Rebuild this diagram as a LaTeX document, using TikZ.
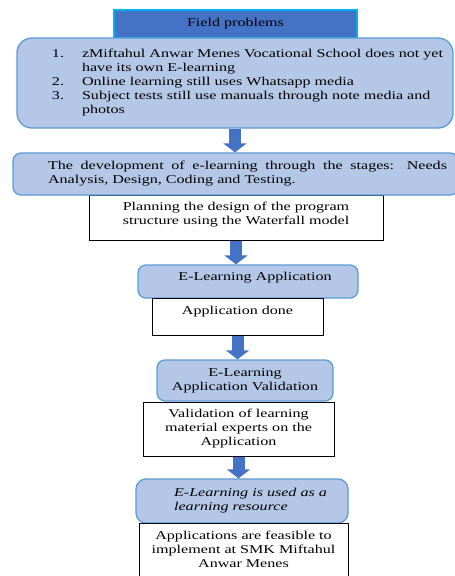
\documentclass[tikz,border=0pt]{standalone}
\usepackage{fontspec}
\setmainfont{Liberation Serif}[FakeStretch=1.34]
\usepackage{xcolor}
\usepackage{tikz}
\usetikzlibrary{arrows.meta}

\definecolor{headblue}{HTML}{4472C4}
\definecolor{headedge}{HTML}{00B0F0}
\definecolor{boxfill}{HTML}{B4C7E7}
\definecolor{boxedge}{HTML}{5B9BD5}
\definecolor{arrowblue}{HTML}{4472C4}

\begin{document}
\begin{tikzpicture}[x=1pt,y=-1pt,
  font=\fontsize{12}{14}\selectfont,
  headbox/.style={draw=headedge, fill=headblue, line width=1.5pt, inner sep=0pt},
  roundbox/.style={draw=boxedge, fill=boxfill, line width=1.3pt, rounded corners=8pt, inner sep=0pt},
  plainbox/.style={draw=black, fill=white, line width=1pt, inner sep=0pt},
  blockarrow/.style={draw=arrowblue, line width=12pt, -{Triangle[width=23pt,length=9pt]}}]

% page frame
\useasboundingbox (0,0) rectangle (455,576);

% Field problems
\node[headbox, minimum width=243pt, minimum height=28pt] (head) at (235.5,24) {Field problems};

\node[roundbox, rounded corners=15pt, minimum width=436pt, minimum height=90pt] (prob) at (235,83)
  {\begin{tabular}{@{\hspace{25pt}}l@{\hspace{18pt}}l@{}}
   1. & zMiftahul Anwar Menes Vocational School does not yet\\
      & have its own E-learning\\
   2. & Online learning still uses Whatsapp media\\
   3. & Subject tests still use manuals through note media and\\
      & photos
   \end{tabular}};

% Development stages
\node[plainbox, minimum width=294pt, minimum height=45pt] (plan) at (236,217.5)
  {\raisebox{3pt}[\height][\depth]{\begin{tabular}{@{}c@{}}
   Planning the design of the program\\
   structure using the Waterfall model
   \end{tabular}}};

\node[roundbox, minimum width=445pt, minimum height=42pt] (dev) at (235.5,174)
  {\begin{tabular}{@{\hspace{24pt}}p{399pt}@{}}
   The development of e-learning through the stages: Needs\linebreak
   Analysis, Design, Coding and Testing.
   \end{tabular}};

% Application
\node[roundbox, minimum width=220pt, minimum height=33pt] (app) at (248,281.5)
  {\raisebox{3.5pt}[\height][\depth]{\hspace*{14pt}E-Learning Application}};

\node[plainbox, minimum width=171pt, minimum height=37pt] (done) at (237.5,316.5)
  {\raisebox{5pt}[\height][\depth]{Application done}};

% Validation
\node[roundbox, minimum width=176pt, minimum height=41pt] (valid) at (245,380.5)
  {\begin{tabular}{@{}c@{}}
   E-Learning\\
   Application Validation
   \end{tabular}};

\node[plainbox, minimum width=191pt, minimum height=54pt] (expert) at (238.5,429)
  {\begin{tabular}{@{}c@{}}
   Validation of learning\\
   material experts on the\\
   Application
   \end{tabular}};

% Learning resource
\node[roundbox, rounded corners=10pt, minimum width=212pt, minimum height=44pt] (use) at (242,501)
  {\begin{tabular}{@{\hspace{17pt}}l@{}}
   \textit{E-Learning is used as a}\\
   \textit{learning resource}
   \end{tabular}};

\node[plainbox, minimum width=209pt, minimum height=55pt] (feas) at (243.5,550.5)
  {\begin{tabular}{@{}c@{}}
   Applications are feasible to\\
   implement at SMK Miftahul\\
   Anwar Menes
   \end{tabular}};

% Block arrows
\draw[blockarrow] (prob.south) -- (prob.south |- dev.north);
\draw[blockarrow] (plan.south) -- (plan.south |- app.north);
\draw[blockarrow] (done.south) -- (done.south |- valid.north);
\draw[blockarrow] (expert.south) -- (expert.south |- use.north);

\end{tikzpicture}
\end{document}
